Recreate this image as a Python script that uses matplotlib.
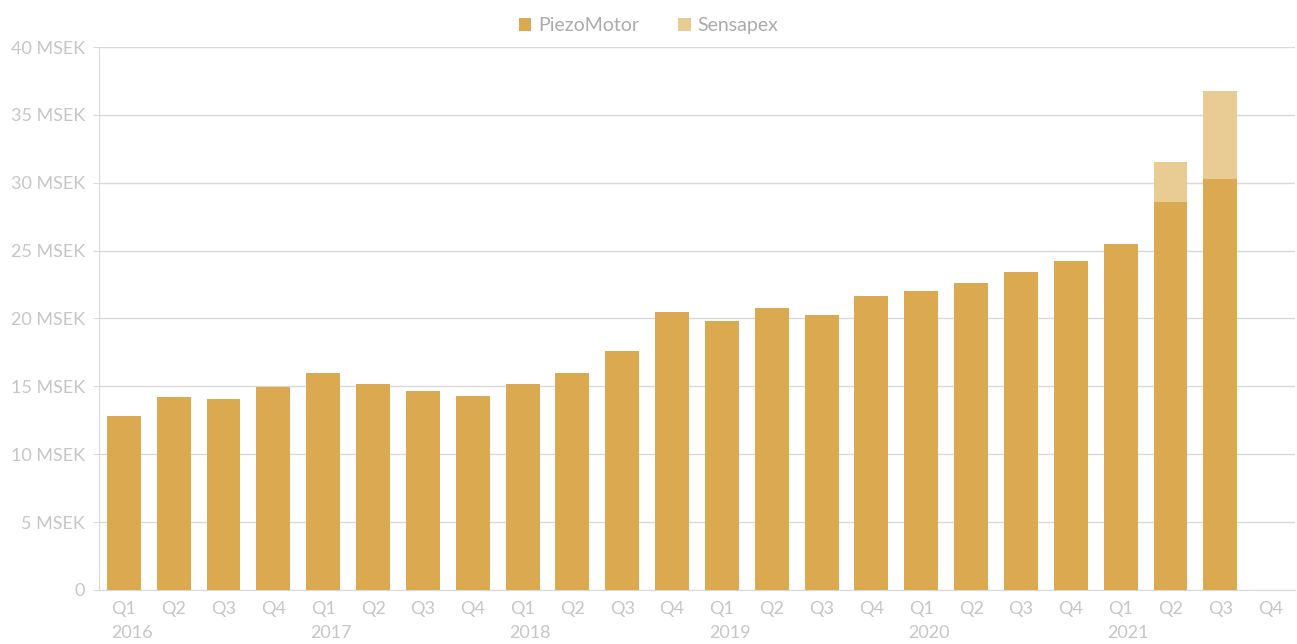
import matplotlib.pyplot as plt
import numpy as np

plt.rcParams['font.family'] = ['Lato', 'DejaVu Sans']

quarters = ['Q1', 'Q2', 'Q3', 'Q4'] * 6
years = ['2016', '2017', '2018', '2019', '2020', '2021']
piezomotor = [12.8, 14.2, 14.1, 14.95,
              16.0, 15.2, 14.65, 14.3,
              15.2, 16.0, 17.6, 20.5,
              19.8, 20.8, 20.25, 21.65,
              22.0, 22.6, 23.4, 24.25,
              25.5, 28.6, 30.3, 0]
sensapex = [0] * 21 + [2.95, 6.45, 0]
yticks = [0, 5, 10, 15, 20, 25, 30, 35, 40]
ytick_labels = ['0'] + ['%d MSEK' % v for v in yticks[1:]]

c_piezo = '#DBAA50'
c_sens = '#E9CB94'
grid_c = '#D9D9D9'
txt_c = '#C6C6C6'

fig = plt.figure(figsize=(12.97, 6.44), dpi=100)
ax = fig.add_axes([0.0763, 0.0839, 0.9222, 0.8431])

x = np.arange(len(quarters))
ax.bar(x, piezomotor, width=0.68, color=c_piezo, label='PiezoMotor', zorder=3)
ax.bar(x, sensapex, width=0.68, bottom=piezomotor, color=c_sens, label='Sensapex', zorder=3)

ax.set_xlim(-0.5, len(quarters) - 0.5)
ax.set_ylim(0, 40)
ax.set_yticks(yticks)
ax.set_yticklabels(ytick_labels)
ax.set_xticks(x)
ax.set_xticklabels(quarters)
ax.tick_params(axis='y', length=4, color=grid_c, labelcolor=txt_c, labelsize=13, pad=6)
ax.tick_params(axis='x', length=0, labelcolor=txt_c, labelsize=13, pad=8)
ax.grid(axis='y', color=grid_c, linewidth=1, zorder=0)

for s in ['top', 'right']:
    ax.spines[s].set_visible(False)
ax.spines['left'].set_color(grid_c)
ax.spines['bottom'].set_color(grid_c)

for i, yr in enumerate(years):
    ax.text(i * 4 - 0.26, -0.065, yr, transform=ax.get_xaxis_transform(),
            ha='left', va='top', color=txt_c, fontsize=13)

leg = fig.legend(loc='upper center', bbox_to_anchor=(0.5, 1.0), ncol=2, frameon=False,
                 fontsize=14, handlelength=0.65, handleheight=0.65, handletextpad=0.35,
                 columnspacing=2.0)
for t in leg.get_texts():
    t.set_color('#ABABAB')

plt.savefig('out.png', dpi=100)
